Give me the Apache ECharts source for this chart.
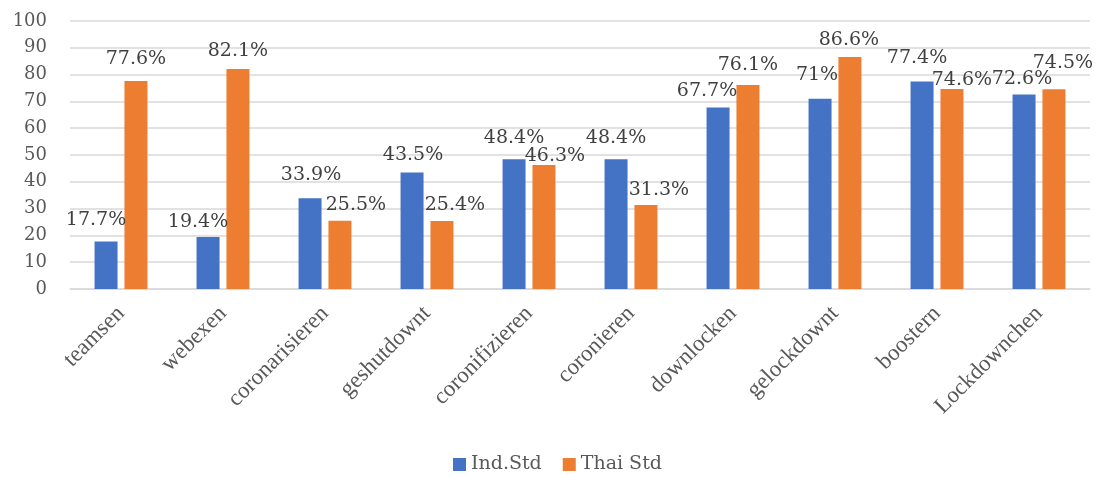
<!DOCTYPE html>
<html>
<head>
<meta charset="utf-8">
<script src="https://cdn.jsdelivr.net/npm/echarts@6/dist/echarts.min.js"></script>
<style>
  html, body { margin: 0; padding: 0; background: #ffffff; }
  #chart { width: 1099px; height: 477px; }
</style>
</head>
<body>
<div id="chart"></div>
<script>
// Word list and survey shares per student group
const categories = ['teamsen', 'webexen', 'coronarisieren', 'geshutdownt', 'coronifizieren',
                    'coronieren', 'downlocken', 'gelockdownt', 'boostern', 'Lockdownchen'];
const seriesNames = ['Ind.Std', 'Thai Std'];
const indStd  = [17.7, 19.4, 33.9, 43.5, 48.4, 48.4, 67.7, 71, 77.4, 72.6];
const thaiStd = [77.6, 82.1, 25.5, 25.4, 46.3, 31.3, 76.1, 86.6, 74.6, 74.5];
const yTicks = { min: 0, max: 100, interval: 10 };

// Hand-placed value labels: [shift right, height of label centre above bar top]
const indLabelPlace  = [[-10, 21.5], [-10, 15], [1, 23.5], [1, 17], [0, 21], [0, 21], [-11, 17], [-3, 24], [-5, 24], [-2, 15.5]];
const thaiLabelPlace = [[0, 21.5], [0, 18], [16, 16], [13, 16], [11, 9], [13, 15], [0, 20], [-1, 17], [10, 9.5], [9, 26.5]];

const LABEL_LINE = 22;
function withLabels(values, places) {
  return values.map((v, i) => ({
    value: v,
    label: { offset: [places[i][0], -(places[i][1] - LABEL_LINE / 2)] }
  }));
}

const valueLabel = {
  show: true,
  position: 'top',
  distance: 0,
  formatter: p => p.value + '%',
  fontFamily: 'DejaVu Serif',
  fontSize: 19,
  lineHeight: LABEL_LINE,
  color: '#404040'
};

const chart = echarts.init(document.getElementById('chart'), null, { renderer: 'canvas' });
chart.setOption({
  animation: false,
  backgroundColor: '#ffffff',
  grid: { left: 70, right: 9, top: 21, bottom: 188, containLabel: false },
  legend: {
    data: seriesNames,
    left: 453,
    top: 455,
    padding: 0,
    icon: 'rect',
    itemWidth: 13,
    itemHeight: 13,
    itemGap: 21,
    textStyle: { fontFamily: 'DejaVu Serif', fontSize: 19, color: '#595959' }
  },
  xAxis: {
    type: 'category',
    data: categories,
    axisLine: { show: true, lineStyle: { color: '#D9D9D9', width: 1.5 } },
    axisTick: { show: false },
    axisLabel: {
      interval: 0,
      rotate: 45,
      margin: 21,
      verticalAlign: 'middle',
      fontFamily: 'Liberation Serif',
      fontSize: 23,
      color: '#595959'
    }
  },
  yAxis: {
    type: 'value',
    min: yTicks.min,
    max: yTicks.max,
    interval: yTicks.interval,
    axisLine: { show: false },
    axisTick: { show: false },
    splitLine: { lineStyle: { color: '#D9D9D9', width: 1.5 } },
    axisLabel: {
      margin: 23,
      fontFamily: 'DejaVu Serif',
      fontSize: 18,
      color: '#595959'
    }
  },
  series: [
    {
      name: seriesNames[0],
      type: 'bar',
      data: withLabels(indStd, indLabelPlace),
      barWidth: 23,
      barGap: '30%',
      itemStyle: { color: '#4472C4' },
      label: valueLabel
    },
    {
      name: seriesNames[1],
      type: 'bar',
      data: withLabels(thaiStd, thaiLabelPlace),
      barWidth: 23,
      barGap: '30%',
      itemStyle: { color: '#ED7D31' },
      label: valueLabel
    }
  ]
});
</script>
</body>
</html>
